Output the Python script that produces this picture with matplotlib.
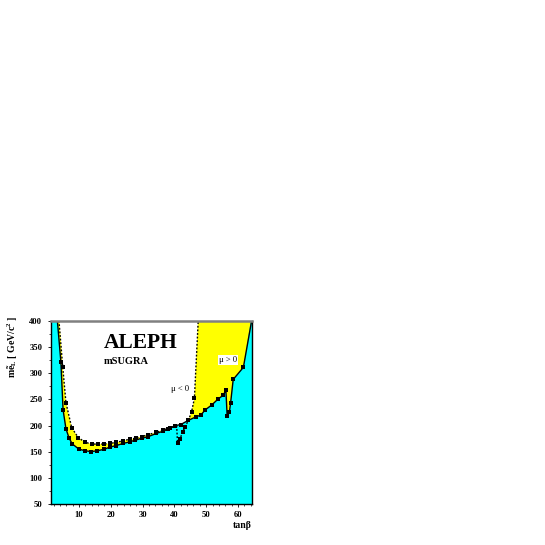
import numpy as np
import matplotlib
matplotlib.use("Agg")
import matplotlib.pyplot as plt
from matplotlib.ticker import MultipleLocator

plt.rcParams["font.family"] = ["Liberation Serif", "DejaVu Serif"]
plt.rcParams["font.weight"] = "bold"
plt.rcParams["mathtext.fontset"] = "custom"
plt.rcParams["mathtext.rm"] = "Liberation Serif:bold"
plt.rcParams["mathtext.it"] = "Liberation Serif:bold"
plt.rcParams["mathtext.bf"] = "Liberation Serif:bold"

# solid line (mu > 0 limit)
solid_tanb = [3.2, 4.3, 5.0, 5.9, 6.9, 7.9, 10.0, 12.0, 13.8, 15.8, 18.0, 19.7,
              21.7, 23.9, 25.9, 27.6, 29.8, 31.8, 34.3, 36.3, 38.0, 40.2, 42.0,
              44.4, 46.9, 48.3, 49.7, 51.7, 53.8, 55.4, 56.2, 56.6, 57.3, 57.7,
              58.5, 61.7, 64.3]
solid_m = [400, 322, 230, 194, 176, 165, 155, 152, 150.5, 152, 155, 159,
           162, 166, 169, 172, 176, 179, 185, 189, 193, 200, 202,
           210, 217, 220, 230, 239, 251, 258, 268, 218, 226, 244,
           288, 311, 400]

# dotted line (mu < 0 limit)
dotted_tanb = [3.7, 4.9, 5.9, 7.7, 9.8, 12.0, 14.0, 16.0, 18.0, 19.7, 21.7,
               23.9, 25.9, 27.8, 29.8, 31.8, 34.3, 36.5, 38.6, 40.3, 40.7,
               41.0, 41.8, 42.6, 43.4, 44.4, 45.4, 46.3, 47.5]
dotted_m = [400, 311, 244, 196, 177, 168, 165, 164.5, 165, 166, 168,
            171, 174, 176, 179, 183, 187, 192, 195.5, 199, 202,
            166, 175, 188, 198, 210, 226, 252, 400]

xticks = [10, 20, 30, 40, 50, 60]
yticks = [50, 100, 150, 200, 250, 300, 350, 400]

XMIN, XMAX = 1.1, 64.5
YMIN, YMAX = 50, 400

fig = plt.figure(figsize=(5.45, 5.45), dpi=100)
ax = fig.add_axes([0.0930, 0.0747, 0.3699, 0.3369])
ax.set_xlim(XMIN, XMAX)
ax.set_ylim(YMIN, YMAX)

# yellow everywhere, white inside the mu<0 curve, cyan below the mu>0 curve
ax.set_facecolor("#ffff00")
wx = dotted_tanb
wy = [YMAX + 10] + dotted_m[1:-1] + [YMAX + 10]
ax.fill(wx, wy, color="white", lw=0, zorder=1)

cx = [XMIN - 1, XMIN - 1] + solid_tanb + [XMAX + 1, XMAX + 1]
cy = [YMIN - 10, YMAX + 10, YMAX + 10] + solid_m[1:-1] + [YMAX + 10, YMAX + 10, YMIN - 10]
ax.fill(cx, cy, color="#00ffff", lw=0, zorder=2)

inner_s = list(range(1, len(solid_tanb) - 1))
inner_d = [i for i in range(1, len(dotted_tanb) - 1) if i != 20]
ax.plot(solid_tanb, solid_m, color="black", lw=1.0, ls="-",
        marker="s", ms=2.4, mew=0, markevery=inner_s, zorder=4)
ax.plot(dotted_tanb, dotted_m, color="black", lw=1.0, ls=(0, (1.3, 1.3)),
        marker="s", ms=2.4, mew=0, markevery=inner_d, zorder=4)

# frame
for side in ["left", "bottom", "right"]:
    ax.spines[side].set_color("black")
    ax.spines[side].set_linewidth(1.0)
ax.spines["top"].set_color("#808080")
ax.spines["top"].set_linewidth(1.8)
for s in ax.spines.values():
    s.set_zorder(5)

ax.set_xticks(xticks)
ax.set_yticks(yticks)
ax.xaxis.set_minor_locator(MultipleLocator(2))
ax.yaxis.set_minor_locator(MultipleLocator(25))
ax.tick_params(which="major", direction="out", length=2.5, width=0.6,
               labelsize=6.2, pad=2)
ax.tick_params(which="minor", direction="out", length=1.5, width=0.5)
ax.tick_params(axis="y", pad=3.5)
ax.tick_params(top=False, right=False, which="both")
for lab in ax.get_xticklabels() + ax.get_yticklabels():
    lab.set_fontweight("bold")

ax.text(17.9, 348, "ALEPH", fontsize=15.5, fontweight="bold", zorder=6)
ax.text(17.9, 318, "mSUGRA", fontsize=7.5, fontweight="bold", zorder=6)
ax.text(41.8, 270, "μ < 0", fontsize=6.2, fontweight="normal",
        ha="center", va="center", zorder=6)
ax.text(56.9, 325, "μ > 0", fontsize=6.2, fontweight="normal",
        ha="center", va="center", zorder=6,
        bbox=dict(facecolor="white", edgecolor="none", pad=0.6))

ax.text(-0.19, 0.86, r"m$\tilde{e}_{L}$ [ GeV/c$^{2}$ ]", transform=ax.transAxes,
        rotation=90, ha="center", va="center", fontsize=7, fontweight="bold")
ax.text(0.95, -0.118, "tanβ", transform=ax.transAxes, ha="center", va="center",
        fontsize=7, fontweight="bold")

fig.savefig("out.png", dpi=100)
